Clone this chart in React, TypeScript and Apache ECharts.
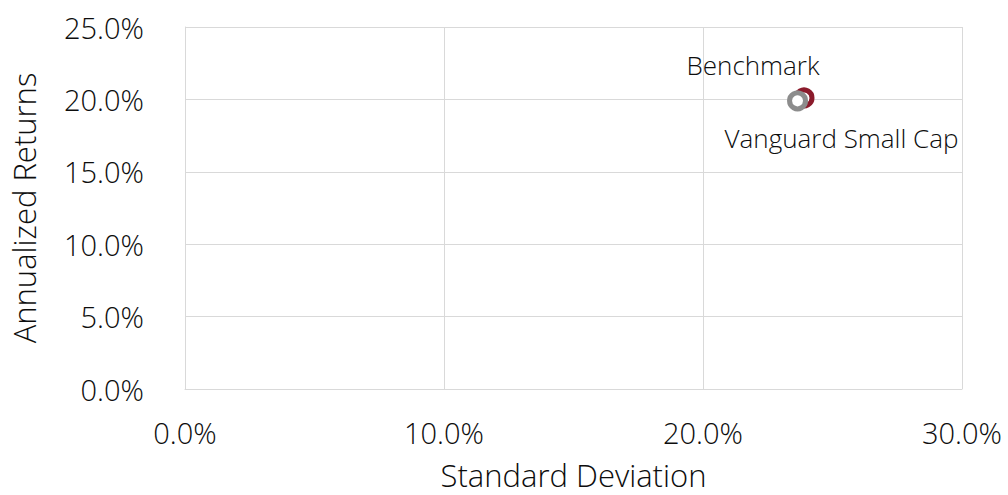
import React, { useEffect, useRef } from "react";
import * as echarts from "echarts";

const seriesNames = ["Benchmark", "Vanguard Small Cap"];
const stdDev = [0.239, 0.2365];
const annReturn = [0.201, 0.199];
const colors = ["#8B1A2B", "#8C8C8C"];
const labelOffsets: [number, number][] = [[-51, -33], [44, 37]];
const xTicks = { min: 0, max: 0.3, interval: 0.1 };
const yTicks = { min: 0, max: 0.25, interval: 0.05 };

const FONT = "'Open Sans', 'Noto Sans', sans-serif";
const TEXT = "#0d0d0d";
const GRID = "#d9d9d9";
const AXIS_FS = 29;
const NAME_FS = 31;
const WEIGHT = 300;

export default function App() {
  const ref = useRef<HTMLDivElement>(null);
  useEffect(() => {
    if (!ref.current) return;
    const chart = echarts.init(ref.current, undefined, { renderer: "svg" });
    const pct = (v: number) => (v * 100).toFixed(1) + "%";
    const txt = { fontSize: AXIS_FS, color: TEXT, fontFamily: FONT, fontWeight: WEIGHT };
    const nameTxt = { ...txt, fontSize: NAME_FS };
    chart.setOption({
      animation: false,
      backgroundColor: "#ffffff",
      textStyle: { fontFamily: FONT },
      grid: { left: 183, right: 46, top: 27, bottom: 102 },
      xAxis: {
        type: "value",
        ...xTicks,
        name: "Standard Deviation",
        nameLocation: "middle",
        nameGap: 70,
        nameTextStyle: nameTxt,
        axisLine: { show: true, lineStyle: { color: GRID } },
        axisTick: { show: false },
        splitLine: { show: true, lineStyle: { color: GRID } },
        axisLabel: { formatter: pct, margin: 29, ...txt },
      },
      yAxis: {
        type: "value",
        ...yTicks,
        name: "Annualized Returns",
        nameLocation: "middle",
        nameGap: 146,
        nameTextStyle: nameTxt,
        axisLine: { show: true, lineStyle: { color: GRID } },
        axisTick: { show: false },
        splitLine: { show: true, lineStyle: { color: GRID } },
        axisLabel: { formatter: pct, margin: 41, ...txt },
      },
      series: seriesNames.map((name, i) => ({
        name,
        type: "scatter",
        symbol: "circle",
        symbolSize: 16,
        data: [[stdDev[i], annReturn[i]]],
        itemStyle: { color: "#ffffff", borderColor: colors[i], borderWidth: 5, opacity: 1 },
        label: {
          show: true,
          position: "inside",
          offset: labelOffsets[i],
          formatter: name,
          fontSize: 26,
          color: TEXT,
          fontFamily: FONT,
          fontWeight: WEIGHT,
        },
      })),
    });
    return () => chart.dispose();
  }, []);
  return (
    <div
      ref={ref}
      style={{ position: "fixed", left: 0, top: 0, width: 1008, height: 495 }}
    />
  );
}
